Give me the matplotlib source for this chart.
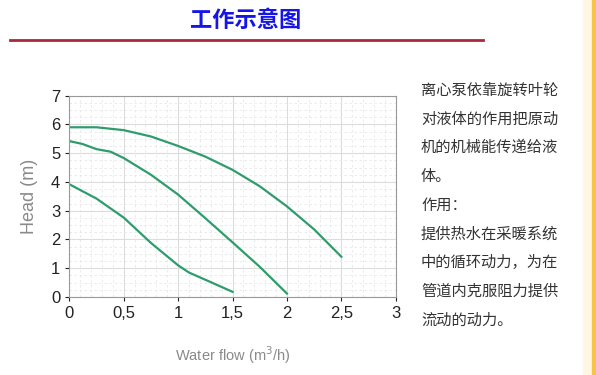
import numpy as np
import matplotlib.pyplot as plt
from matplotlib.ticker import MultipleLocator, FuncFormatter

# datos de las curvas (caudal m3/h, altura m)
flow_high = [0, 0.25, 0.5, 0.75, 1.0, 1.25, 1.5, 1.75, 2.0, 2.25, 2.5]
head_high = [5.9, 5.9, 5.8, 5.58, 5.25, 4.88, 4.42, 3.85, 3.15, 2.35, 1.4]

flow_mid = [0, 0.12, 0.25, 0.38, 0.5, 0.75, 1.0, 1.25, 1.5, 1.75, 2.0]
head_mid = [5.42, 5.32, 5.14, 5.05, 4.83, 4.25, 3.56, 2.74, 1.9, 1.05, 0.12]

flow_low = [0, 0.25, 0.5, 0.75, 1.0, 1.1, 1.25, 1.5]
head_low = [3.92, 3.42, 2.76, 1.88, 1.1, 0.85, 0.6, 0.18]

x_ticks = [0, 0.5, 1, 1.5, 2, 2.5, 3]
y_ticks = [0, 1, 2, 3, 4, 5, 6, 7]

title = "工作示意图"
texto = ["离心泵依靠旋转叶轮", "对液体的作用把原动", "机的机械能传递给液", "体。",
         "作用：", "提供热水在采暖系统", "中的循环动力，为在", "管道内克服阻力提供", "流动的动力。"]

plt.rcParams['font.family'] = ['Liberation Sans Narrow', 'Liberation Sans', 'DejaVu Sans']

fig = plt.figure(figsize=(5.96, 3.75), dpi=100)
ax = fig.add_axes([0.1163, 0.208, 0.664 - 0.1163, 0.745 - 0.208])

verde = '#2e9c6c'
for xs, ys in [(flow_high, head_high), (flow_mid, head_mid), (flow_low, head_low)]:
    ax.plot(xs, ys, color=verde, linewidth=1.6)

ax.set_xlim(0, 3)
ax.set_ylim(0, 7)
ax.set_xticks(x_ticks)
ax.set_yticks(y_ticks)
ax.xaxis.set_major_formatter(FuncFormatter(lambda v, p: f"{v:g}".replace('.', ',')))
ax.xaxis.set_minor_locator(MultipleLocator(0.1))
ax.yaxis.set_minor_locator(MultipleLocator(0.25))
ax.grid(True, which='major', color='#dcdcdc', linewidth=0.8)
ax.grid(True, which='minor', color='#e8e8e8', linewidth=0.6, linestyle=(0, (3, 3)))
ax.tick_params(which='minor', length=0)
ax.tick_params(which='major', labelsize=12, colors='#222222', length=3)
for s in ax.spines.values():
    s.set_color('#999999')

ax.set_xlabel("Water flow (m$^3$/h)", color='#8a8a8a', fontsize=10.5,
              family=['Liberation Sans', 'DejaVu Sans'], labelpad=17)
ax.set_ylabel("Head (m)", color='#8a8a8a', fontsize=13,
              family=['Liberation Sans', 'DejaVu Sans'], labelpad=9)

# titulo y linea roja
fig.text(246 / 596, 1 - 20 / 375, title, ha='center', va='center', fontsize=16,
         color='#1515e8', fontweight='bold', family=['Noto Sans CJK SC', 'DejaVu Sans'])
fig.add_artist(plt.Line2D([10 / 596, 483 / 596], [1 - 40 / 375, 1 - 40 / 375],
                          color='#a8283c', linewidth=2))

# texto de la derecha
for i, linea in enumerate(texto):
    y = 90 + i * 28.8
    fig.text(421 / 596, 1 - y / 375, linea, ha='left', va='center', fontsize=11,
             color='#333333', family=['Noto Sans CJK SC', 'DejaVu Sans'])

# franja amarilla al borde
fig.patches.append(plt.Rectangle((583 / 596, 0), 9 / 596, 1, transform=fig.transFigure,
                                 color='#fff7e3', zorder=0))
fig.patches.append(plt.Rectangle((592 / 596, 0), 4 / 596, 1, transform=fig.transFigure,
                                 color='#f7c443', zorder=0))

fig.savefig('out.png', dpi=100)
